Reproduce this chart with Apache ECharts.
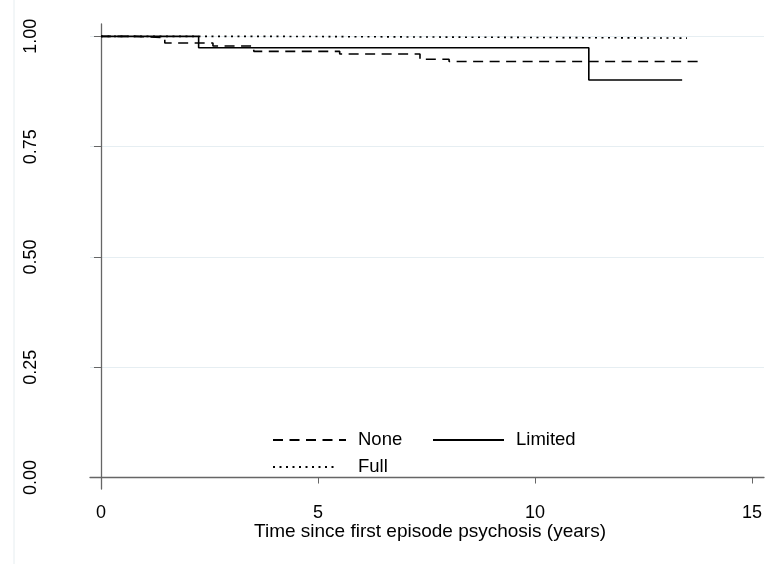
<!DOCTYPE html>
<html>
<head>
<meta charset="utf-8">
<script src="https://cdn.jsdelivr.net/npm/echarts@6/dist/echarts.min.js"></script>
<style>
html,body{margin:0;padding:0;background:#fff;}
#c{width:769px;height:564px;}
</style>
</head>
<body>
<div id="c"></div>
<script>
// Kaplan-Meier style step data (time in years, survival proportion)
var noneX = [0, 0.78, 1.47, 2.58, 3.52, 5.5, 7.35, 8.02, 13.76];
var noneY = [1.0, 0.997, 0.985, 0.978, 0.966, 0.960, 0.948, 0.943, 0.943];
var limitedX = [0, 2.25, 11.24, 13.39];
var limitedY = [1.0, 0.974, 0.901, 0.901];
var fullX = [0, 3.9, 13.5];
var fullY = [1.0, 0.996, 0.996];
var xTicks = [0, 5, 10, 15];
var yTicks = [0, 0.25, 0.5, 0.75, 1];
var seriesNames = ['None', 'Limited', 'Full'];
var xTitle = 'Time since first episode psychosis (years)';

function pairs(xs, ys) { return xs.map(function (x, i) { return [x, ys[i]]; }); }

var FONT = '"Liberation Sans", Arial, Helvetica, sans-serif';
var chart = echarts.init(document.getElementById('c'), null, {renderer: 'canvas'});
var legendBase = {
  orient: 'horizontal', padding: 0, itemHeight: 20,
  textStyle: {fontFamily: FONT, fontSize: 18.5, color: '#000', lineHeight: 20},
  itemStyle: {opacity: 0, color: 'rgba(0,0,0,0)', borderColor: 'rgba(0,0,0,0)', borderWidth: 0},
  inactiveColor: '#000', selectedMode: false
};
function leg(name, left, top, w, pad) {
  return Object.assign({}, legendBase, {data: [name], left: left, top: top, itemWidth: w,
    textStyle: Object.assign({}, legendBase.textStyle, {padding: [0, 0, 0, pad]})});
}
chart.setOption({
  animation: false,
  backgroundColor: '#fff',
  grid: {left: 90, right: 5, top: 24, bottom: 75},
  xAxis: {
    type: 'value', min: -0.253, max: 15.276,
    axisLine: {show: true, lineStyle: {color: '#666', width: 1.3}},
    axisTick: {show: true, customValues: xTicks, length: 6, lineStyle: {color: '#666'}},
    axisLabel: {customValues: xTicks, margin: 15, fontFamily: FONT, fontSize: 18, color: '#000'},
    splitLine: {show: false},
    name: xTitle, nameLocation: 'middle', nameGap: 33, nameMoveOverlap: false,
    nameTextStyle: {fontFamily: FONT, fontSize: 19, color: '#000', padding: [0, 0, 0, 6]}
  },
  yAxis: {
    type: 'value', min: -0.026, max: 1.028,
    axisLine: {show: true, lineStyle: {color: '#666', width: 1.3}},
    axisTick: {show: true, customValues: yTicks, length: 7, lineStyle: {color: '#666'}},
    axisLabel: {customValues: yTicks, rotate: 90, margin: 50, fontFamily: FONT, fontSize: 18, color: '#000',
      formatter: function (v) { return v.toFixed(2); }},
    splitLine: {show: true, lineStyle: {color: '#e6eef2', width: 1}}
  },
  legend: [
    leg(seriesNames[0], 272, 430, 73, 7),
    leg(seriesNames[1], 432, 430, 71, 7),
    leg(seriesNames[2], 272, 457, 62, 18)
  ],
  graphic: [{type: 'line', shape: {x1: 14, y1: 0, x2: 14, y2: 564}, style: {stroke: '#e6edf0', lineWidth: 1}, silent: true}],
  series: [
    {name: seriesNames[2], type: 'line', step: 'end', data: pairs(fullX, fullY), symbol: 'none',
      lineStyle: {color: '#000', width: 1.6, type: [2, 4.5]}, itemStyle: {color: '#000'}},
    {name: seriesNames[0], type: 'line', step: 'end', data: pairs(noneX, noneY), symbol: 'none',
      lineStyle: {color: '#000', width: 1.6, type: [10, 6.5]}, itemStyle: {color: '#000'}},
    {name: seriesNames[1], type: 'line', step: 'end', data: pairs(limitedX, limitedY), symbol: 'none',
      lineStyle: {color: '#000', width: 1.6, type: 'solid'}, itemStyle: {color: '#000'}}
  ]
});
</script>
</body>
</html>
